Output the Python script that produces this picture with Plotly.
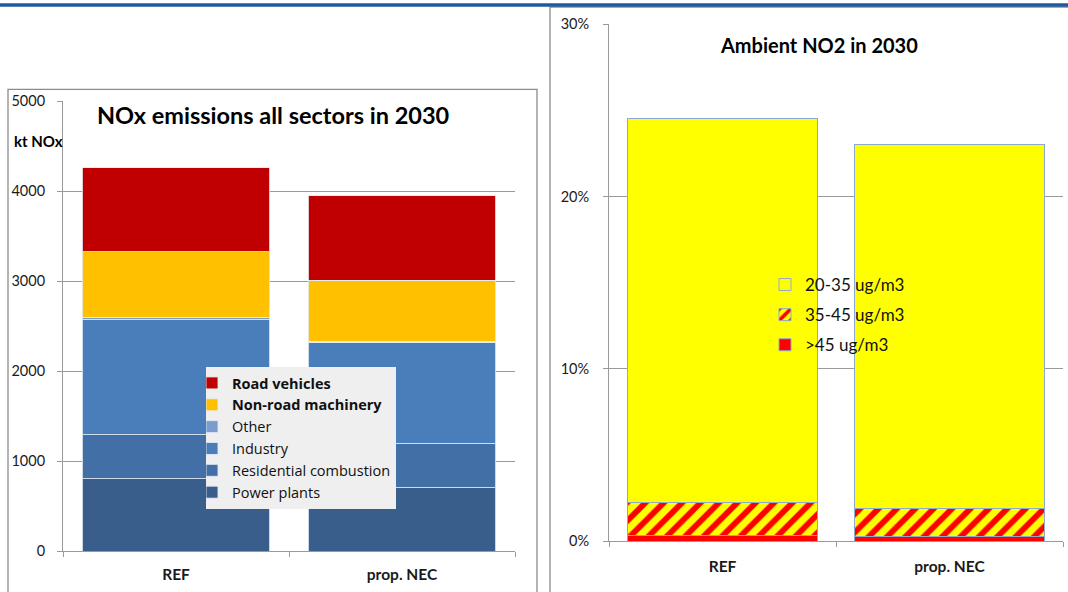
import plotly.graph_objects as go

W, H = 1068, 592

# ---- data -------------------------------------------------------------
scenarios = ["REF", "prop. NEC"]

# NOx emissions by sector in 2030 (kt NOx), stacked bottom -> top
sectors = ["Power plants", "Residential combustion", "Industry", "Other",
           "Non-road machinery", "Road vehicles"]
power_plants = [805, 705]
residential = [485, 485]
industry = [1280, 1130]
other = [30, 10]
non_road = [725, 680]
road = [935, 935]

# Share of ambient NO2 exposure classes in 2030 (fraction), bottom -> top
no2_classes = [">45 ug/m3", "35-45 ug/m3", "20-35 ug/m3"]
no2_above45 = [0.003, 0.0027]
no2_35_45 = [0.0195, 0.0163]
no2_20_35 = [0.223, 0.211]

emission_series = [power_plants, residential, industry, other, non_road, road]
sector_colors = ["#3A5E8B", "#4270A6", "#4A7EBB", "#7C9CCF", "#FFC000", "#C00000"]
bold_names = {"Non-road machinery", "Road vehicles"}

FONT = "Lato"
LEGEND_FONT = "Open Sans"


def px_x(p):
    return p / W


def px_y(p):
    return 1 - p / H


fig = go.Figure()

for i, (name, vals, col) in enumerate(zip(sectors, emission_series, sector_colors)):
    label = f"<b>{name}</b>" if name in bold_names else name
    fig.add_trace(go.Bar(
        x=scenarios, y=vals, name=label,
        marker=dict(color=col, line=dict(color="rgba(230,236,245,0.85)", width=1)),
        width=0.83, xaxis="x", yaxis="y", legend="legend",
        legendrank=100 - i,
    ))

no2_series = [no2_above45, no2_35_45, no2_20_35]
for i, (name, vals) in enumerate(zip(no2_classes, no2_series)):
    if name == ">45 ug/m3":
        marker = dict(color="#FF0000", line=dict(color="#8DA9D0", width=1))
    elif name == "35-45 ug/m3":
        marker = dict(color="#FFFF00", line=dict(color="#8DA9D0", width=1),
                      pattern=dict(shape="/", bgcolor="#FFFF00", fgcolor="#FF0000",
                                   fgopacity=1, size=13, solidity=0.45))
    else:
        marker = dict(color="#FFFF00", line=dict(color="#8DA9D0", width=1))
    fig.add_trace(go.Bar(
        x=scenarios, y=vals, name=name, marker=marker, width=0.84,
        xaxis="x2", yaxis="y2", legend="legend2", legendgroup=name,
        legendrank=100 - i,
    ))

axis_grey = "#9A9A9A"
tick_font = dict(family=FONT, size=14.5, color="#1a1a1a")
cat_font = dict(family=FONT, size=15.5, color="#1a1a1a", weight="bold")

fig.update_layout(
    width=W, height=H,
    margin=dict(l=0, r=0, t=0, b=0, pad=0, autoexpand=False),
    paper_bgcolor="white", plot_bgcolor="white",
    barmode="stack", bargap=0.17,
    font=dict(family=FONT, color="#1a1a1a"),
    xaxis=dict(domain=[px_x(63), px_x(515)], anchor="y", type="category",
               range=[-0.5, 1.5], tickson="boundaries", ticks="outside",
               ticklen=5, tickcolor=axis_grey, showline=True, linecolor=axis_grey,
               showgrid=False, tickfont=cat_font, ticklabelstandoff=9,
               automargin=False),
    yaxis=dict(domain=[px_y(551), px_y(101)], anchor="x", range=[0, 5000],
               dtick=1000, showgrid=True, gridcolor=axis_grey, ticks="outside",
               ticklen=5, tickcolor=axis_grey, showline=True, linecolor=axis_grey,
               zeroline=False, tickfont=tick_font, ticklabelstandoff=9,
               automargin=False),
    xaxis2=dict(domain=[px_x(609), px_x(1063)], anchor="y2", type="category",
                range=[-0.5, 1.5], tickson="boundaries", ticks="outside",
                ticklen=5, tickcolor=axis_grey, showline=True, linecolor=axis_grey,
                showgrid=False, tickfont=cat_font, ticklabelstandoff=11,
                automargin=False),
    yaxis2=dict(domain=[px_y(541), px_y(24.3)], anchor="x2", range=[0, 0.30],
                dtick=0.10, tickformat=".0%", showgrid=True, gridcolor=axis_grey,
                ticks="outside", ticklen=5, tickcolor=axis_grey, showline=True,
                linecolor=axis_grey, zeroline=False, tickfont=tick_font,
                ticklabelstandoff=11, automargin=False),
    legend=dict(x=px_x(206), y=px_y(367), xanchor="left", yanchor="top",
                bgcolor="#EFEFEF", borderwidth=0, indentation=-14,
                font=dict(family=LEGEND_FONT, size=14.5, color="#111"),
                itemclick=False, traceorder="normal"),
    legend2=dict(x=px_x(777), y=px_y(267), xanchor="left", yanchor="top",
                 bgcolor="rgba(0,0,0,0)", borderwidth=0, indentation=-12,
                 tracegroupgap=5, traceorder="grouped",
                 font=dict(family=FONT, size=17, color="#111")),
    showlegend=True,
)

# Frames around each chart and the blue rule along the top
fig.add_shape(type="rect", xref="paper", yref="paper",
              x0=px_x(8), x1=px_x(537), y0=px_y(600), y1=px_y(89.3),
              line=dict(color="#8C8C8C", width=1.3), fillcolor="rgba(0,0,0,0)",
              layer="below")
fig.add_shape(type="rect", xref="paper", yref="paper",
              x0=px_x(550), x1=px_x(1080), y0=px_y(600), y1=px_y(7),
              line=dict(color="#8C8C8C", width=1.3), fillcolor="rgba(0,0,0,0)",
              layer="below")
fig.add_shape(type="line", xref="paper", yref="paper",
              x0=0, x1=1, y0=px_y(5), y1=px_y(5),
              line=dict(color="#1F5B9C", width=3.5))

fig.add_annotation(text="<b>NOx emissions all sectors in 2030</b>", xref="paper",
                   yref="paper", x=px_x(273), y=px_y(115), xanchor="center",
                   yanchor="middle", showarrow=False,
                   font=dict(family=FONT, size=23.5, color="#000"))
fig.add_annotation(text="<b>kt NOx</b>", xref="paper", yref="paper",
                   x=px_x(12), y=px_y(141), xanchor="left", yanchor="middle",
                   showarrow=False, font=dict(family=FONT, size=15, color="#000"))
fig.add_annotation(text="<b>Ambient NO2 in 2030</b>", xref="paper", yref="paper",
                   x=px_x(819), y=px_y(45), xanchor="center", yanchor="middle",
                   showarrow=False, font=dict(family=FONT, size=20, color="#000"))

fig.write_html("out.html")
